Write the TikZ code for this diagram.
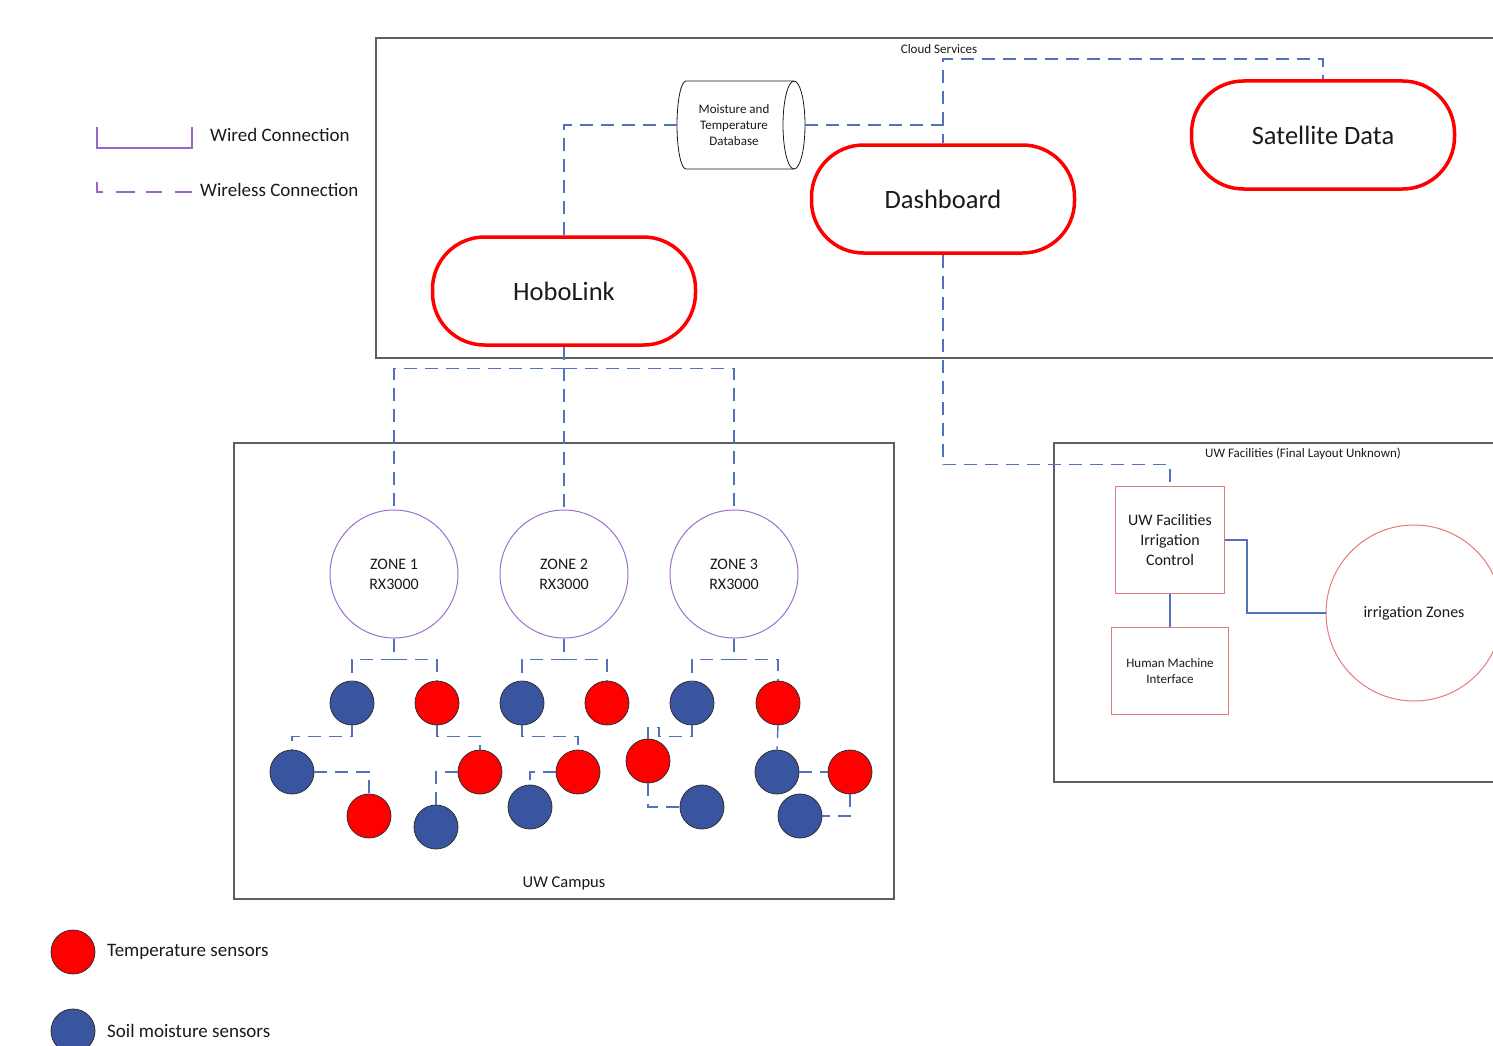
\documentclass[tikz,border=0pt]{standalone}
\usepackage{fontspec}
\setmainfont{Carlito}
\definecolor{tred}{HTML}{FF0000}
\definecolor{mblue}{HTML}{3A55A0}
\definecolor{sedge}{HTML}{2F2F2F}
\definecolor{framegray}{HTML}{5E5E5E}
\definecolor{linkblue}{HTML}{5272C0}
\definecolor{zpurple}{HTML}{9C6FCF}
\definecolor{legpurple}{HTML}{9966CC}
\definecolor{facred}{HTML}{E27B7B}
\definecolor{txt}{HTML}{1A1A1A}
\begin{document}
\begin{tikzpicture}[x=1pt,y=-1pt,
  every node/.style={text=txt},
  frame/.style={draw=framegray, line width=1.1pt},
  pill/.style={draw=tred, line width=3.5pt, rounded corners=52pt, minimum width=263pt, minimum height=108pt, inner sep=0pt, font=\fontsize{26.5}{32}\selectfont},
  zone/.style={circle, draw=zpurple, line width=1pt, minimum size=128pt, inner sep=0pt, align=center, font=\fontsize{16}{20}\selectfont},
  tsens/.style={circle, draw=sedge, fill=tred, line width=0.8pt, minimum size=44pt, inner sep=0pt},
  msens/.style={circle, draw=sedge, fill=mblue, line width=0.8pt, minimum size=44pt, inner sep=0pt},
  wl/.style={draw=linkblue, line width=1.4pt, dash pattern=on 13pt off 8pt},
  wd/.style={draw=linkblue, line width=1.4pt},
  facbox/.style={draw=facred, line width=1pt, inner sep=0pt, align=center},
  legline/.style={draw=legpurple, line width=1.5pt},
  small/.style={font=\fontsize{13}{16}\selectfont},
  legtext/.style={anchor=west, font=\fontsize{19}{23}\selectfont, inner sep=0pt}
]
\useasboundingbox (0,0) rectangle (1493,1046);
\clip (0,0) rectangle (1493,1046);

% frames
\draw[frame] (376,38) rectangle (1530,358);
\node[small] (cloudlbl) at (939,49) {Cloud Services};
\draw[frame] (234,443) rectangle (894,899);
\node[font=\fontsize{16.5}{20}\selectfont] (campuslbl) at (564,883) {UW Campus};
\draw[frame] (1054,443) rectangle (1530,782);
\node[small] (faclbl) at (1303,454) {UW Facilities (Final Layout Unknown)};

% legend
\draw[legline] (97,127) -- (97,148) -- (192,148) -- (192,127);
\node[legtext] (wiredlbl) at (210,135) {Wired Connection};
\draw[legline, dash pattern=on 16pt off 13pt on 19pt off 11pt] (97,182) -- (97,192) -- (192,192);
\node[legtext] (wirelesslbl) at (200,190) {Wireless Connection};

\node[tsens] (legt) at (73,952) {};
\node[legtext] (legtlbl) at (107,952) {Temperature sensors};
\node[msens] (legm) at (73,1031) {};
\node[legtext] (legmlbl) at (107,1031) {Soil moisture sensors};

% database cylinder
\draw[draw=txt, line width=0.8pt, fill=white] (686,81) -- (794,81) arc[start angle=-90, end angle=90, x radius=11, y radius=44] -- (686,169) arc[start angle=90, end angle=270, x radius=9, y radius=44] -- cycle;
\draw[draw=txt, line width=0.8pt] (794,81) arc[start angle=-90, end angle=-270, x radius=11, y radius=44];
\node[minimum width=128pt, minimum height=88pt, inner sep=0pt] (db) at (741,125) {};
\node[align=center, inner sep=0pt, font=\fontsize{13}{16}\selectfont] (dbtxt) at (734,125) {Moisture and\\Temperature\\Database};

% cloud nodes
\node[pill] (hobo) at (564,291) {HoboLink};
\node[pill] (dash) at (943,199) {Dashboard};
\node[pill] (sat) at (1323,135) {Satellite Data};

% zones
\node[zone] (z1) at (394,574) {ZONE 1\\RX3000};
\node[zone] (z2) at (564,574) {ZONE 2\\RX3000};
\node[zone] (z3) at (734,574) {ZONE 3\\RX3000};

% sensors zone 1
\node[msens] (s1a) at (352,703) {};
\node[tsens] (s1b) at (437,703) {};
\node[msens] (s1c) at (292,772) {};
\node[tsens] (s1d) at (369,816) {};
\node[tsens] (s1e) at (480,772) {};
\node[msens] (s1f) at (436,827) {};
% zone 2
\node[msens] (s2a) at (522,703) {};
\node[tsens] (s2b) at (607,703) {};
\node[tsens] (s2c) at (578,772) {};
\node[msens] (s2d) at (530,807) {};
% zone 3
\node[msens] (s3a) at (692,703) {};
\node[tsens] (s3b) at (778,703) {};
\node[tsens] (s3c) at (648,761) {};
\node[msens] (s3d) at (702,807) {};
\node[msens] (s3e) at (777,772) {};
\node[tsens] (s3f) at (850,772) {};
\node[msens] (s3g) at (800,816) {};

% facilities
\node[facbox, minimum width=109pt, minimum height=107pt, font=\fontsize{16}{20}\selectfont] (uwic) at (1170,540) {UW Facilities\\Irrigation\\Control};
\node[facbox, minimum width=117pt, minimum height=87pt, font=\fontsize{13}{16}\selectfont] (hmi) at (1170,671) {Human Machine\\Interface};
\node[circle, draw=facred, line width=1pt, minimum size=176pt, inner sep=0pt, font=\fontsize{16}{20}\selectfont] (iz) at (1414,613) {irrigation Zones};

% cloud connectors
\draw[wl] (hobo.north) -- (hobo.north |- db.west) -- (db.west);
\draw[wl] (db.east) -- (dash.north |- db.east) -- (dash.north);
\draw[wl] (dash.north |- db.east) -- ++(0,-66) -| (sat.north);
\draw[wl] (dash.south) -- ++(0,210) -| (uwic.north);

% hobolink to zones
\draw[wl] (hobo.south) -- ++(0,22) coordinate (hb);
\draw[wl] (hb) -| (z1.north);
\draw[wl] (hb) -| (z3.north);
\draw[wl] (hobo.south) -- (z2.north);

% zone buses
\draw[wl] (z1.south) -- ++(0,21) coordinate (b1);
\draw[wl] (b1) -| (s1a.north);
\draw[wl] (b1) -| (s1b.north);
\draw[wl] (z2.south) -- ++(0,21) coordinate (b2);
\draw[wl] (b2) -| (s2a.north);
\draw[wl] (b2) -| (s2b.north);
\draw[wl] (z3.south) -- ++(0,21) coordinate (b3);
\draw[wl] (b3) -| (s3a.north);
\draw[wl] (b3) -| (s3b.north);

% sensor chains
\draw[wl] (s1a.south) -- ++(0,11) -| (s1c.north);
\draw[wl] (s1c.east) -| (s1d.north);
\draw[wl] (s1b.south) -- ++(0,11) -| (s1e.north);
\draw[wl] (s1e.west) -| (s1f.north);
\draw[wl] (s2a.south) -- ++(0,11) -| (s2c.north);
\draw[wl] (s2c.west) -| (s2d.north);
\draw[wl] (s3a.south) -- ++(0,11) -- ++(-33,0) -- ++(0,-9) -- ++(-11,0) -- (s3c.north);
\draw[wl] (s3c.south) |- (s3d.west);
\draw[wl] (s3b.south) -- (s3e.north);
\draw[wl] (s3e.east) -- (s3f.west);
\draw[wl] (s3f.south) |- (s3g.east);

% facilities wired
\draw[wd] (uwic.south) -- (hmi.north);
\draw[wd] (uwic.east) -- ++(22,0) |- (iz.west);
\end{tikzpicture}
\end{document}
